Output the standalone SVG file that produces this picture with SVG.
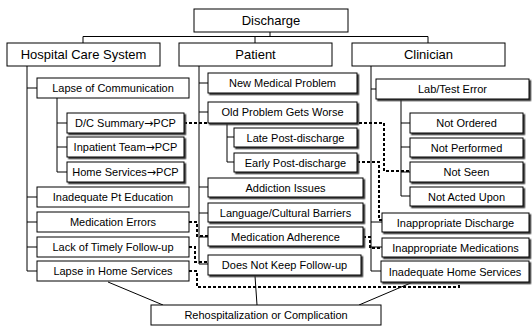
<svg xmlns="http://www.w3.org/2000/svg" width="532" height="327" viewBox="0 0 532 327">
<defs>
<filter id="sh" x="-10%" y="-10%" width="130%" height="150%"><feDropShadow dx="1.6" dy="1.6" stdDeviation="0" flood-color="#333"/></filter>
<style>
rect{fill:#fff;stroke:#000;stroke-width:1}
rect.s{filter:url(#sh)}
text{font-family:"Liberation Sans",Arial,sans-serif;font-size:11px;text-anchor:middle;fill:#000}
text.big{font-size:13px}
tspan.arr{font-family:"DejaVu Sans",sans-serif;font-size:11px}
.solid{fill:none;stroke:#000;stroke-width:1}
.dash{fill:none;stroke:#000;stroke-width:2;stroke-dasharray:3 2}
</style>
</defs>
<rect x="0" y="0" width="532" height="327" style="fill:#fff;stroke:none"/>
<g id="connectors">
<path class="solid" d="M270,32V36.5M83,36.5H428M83,36.5V43M255,36.5V43M428,36.5V43"/>
<path class="solid" d="M27,66V271M27,88H37M27,197H37M27,222H37M27,247H37M27,271H37"/>
<path class="solid" d="M57,98V172M57,123H67M57,147H67M57,172H67"/>
<path class="solid" d="M199,66V264M199,83H208M199,112H208M199,187H208M199,213H208M199,237H208M199,264H208"/>
<path class="solid" d="M227,123V162M227,137H234M227,162H234"/>
<path class="solid" d="M371,66V271M371,89H376M371,222H382M371,247H382M371,271H381"/>
<path class="solid" d="M401,99V196M401,123H410M401,147H410M401,172H410M401,196H410"/>
<path class="solid" d="M108,282L163,305M255,276L257,305M413,282L359,305"/>
<path class="dash" d="M184,123H384V171H410"/>
<path class="dash" d="M357,162H379V220H382"/>
<path class="dash" d="M363,237H370V248H382"/>
<path class="dash" d="M189,222H197V236H208"/>
<path class="dash" d="M189,247H195V262H208"/>
<path class="dash" d="M189,271H197V287H459V282"/>
</g>
<g id="discharge"><rect x="194" y="9" width="154" height="23"/><text class="big" x="271" y="25">Discharge</text></g>
<g id="hospital"><rect x="7" y="43" width="153" height="23"/><text class="big" x="83.5" y="59">Hospital Care System</text></g>
<g id="patient"><rect x="179" y="43" width="153" height="23"/><text class="big" x="255.5" y="59">Patient</text></g>
<g id="clinician"><rect x="352" y="43" width="153" height="23"/><text class="big" x="428.5" y="59">Clinician</text></g>

<g id="lapse-comm"><rect x="37" y="78" width="152" height="20"/><text x="113" y="92">Lapse of Communication</text></g>
<g id="dc-summary"><rect class="s" x="67" y="113" width="117" height="20"/><text x="125.5" y="127">D/C Summary<tspan class="arr">→</tspan>PCP</text></g>
<g id="inpatient-team"><rect class="s" x="67" y="137" width="117" height="20"/><text x="125.5" y="151">Inpatient Team<tspan class="arr">→</tspan>PCP</text></g>
<g id="home-services-pcp"><rect class="s" x="67" y="162" width="117" height="20"/><text x="125.5" y="176">Home Services<tspan class="arr">→</tspan>PCP</text></g>
<g id="pt-education"><rect x="37" y="187" width="152" height="20"/><text x="113" y="201">Inadequate Pt Education</text></g>
<g id="med-errors"><rect x="37" y="212" width="152" height="20"/><text x="113" y="226">Medication Errors</text></g>
<g id="timely-followup"><rect x="37" y="237" width="152" height="20"/><text x="113" y="251">Lack of Timely Follow-up</text></g>
<g id="lapse-home"><rect x="37" y="261" width="152" height="20"/><text x="113" y="275">Lapse in Home Services</text></g>

<g id="new-problem"><rect class="s" x="208" y="73" width="149" height="20"/><text x="282.5" y="87">New Medical Problem</text></g>
<g id="old-problem"><rect class="s" x="208" y="102" width="149" height="21"/><text x="282.5" y="116">Old Problem Gets Worse</text></g>
<g id="late-post"><rect class="s" x="234" y="128" width="123" height="19"/><text x="295.5" y="141.5">Late Post-discharge</text></g>
<g id="early-post"><rect class="s" x="234" y="153" width="123" height="19"/><text x="295.5" y="166.5">Early Post-discharge</text></g>
<g id="addiction"><rect class="s" x="208" y="178" width="155" height="19"/><text x="285.5" y="191.5">Addiction Issues</text></g>
<g id="language"><rect class="s" x="208" y="203" width="155" height="19"/><text x="285.5" y="216.5">Language/Cultural Barriers</text></g>
<g id="med-adherence"><rect class="s" x="208" y="227" width="155" height="19"/><text x="285.5" y="240.5">Medication Adherence</text></g>
<g id="no-followup"><rect class="s" x="208" y="255" width="153" height="20"/><text x="284.5" y="269">Does Not Keep Follow-up</text></g>

<g id="lab-error"><rect class="s" x="376" y="79" width="153" height="20"/><text x="452.5" y="93">Lab/Test Error</text></g>
<g id="not-ordered"><rect class="s" x="410" y="113" width="113" height="20"/><text x="466.5" y="127">Not Ordered</text></g>
<g id="not-performed"><rect class="s" x="410" y="138" width="113" height="19"/><text x="466.5" y="151.5">Not Performed</text></g>
<g id="not-seen"><rect class="s" x="410" y="162" width="113" height="20"/><text x="466.5" y="176">Not Seen</text></g>
<g id="not-acted"><rect class="s" x="410" y="187" width="113" height="19"/><text x="466.5" y="200.5">Not Acted Upon</text></g>
<g id="inapp-discharge"><rect class="s" x="382" y="213" width="147" height="19"/><text x="455.5" y="226.5">Inappropriate Discharge</text></g>
<g id="inapp-meds"><rect class="s" x="382" y="238" width="147" height="19"/><text x="455.5" y="251.5">Inappropriate Medications</text></g>
<g id="inadequate-home"><rect class="s" x="381" y="261" width="148" height="21"/><text x="455" y="275.5">Inadequate Home Services</text></g>

<g id="rehosp"><rect x="151" y="305" width="230" height="20"/><text x="266" y="319">Rehospitalization or Complication</text></g>
</svg>
